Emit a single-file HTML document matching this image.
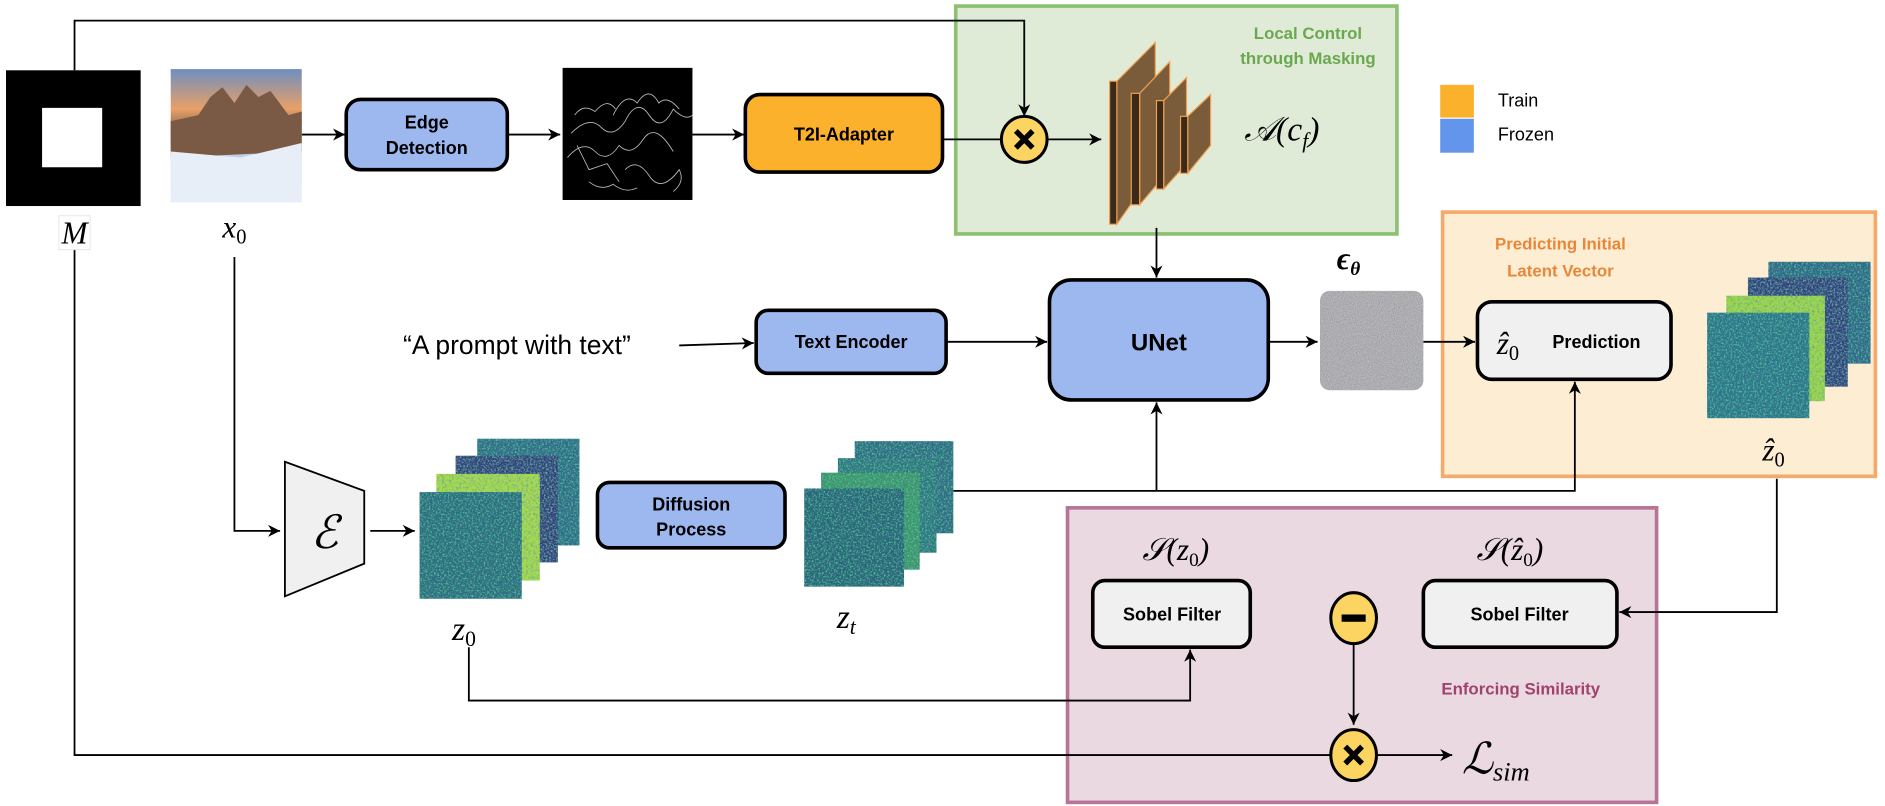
<!DOCTYPE html>
<html><head><meta charset="utf-8"><style>
html,body{margin:0;padding:0;background:#fff;}
svg{display:block;}
.b{font-family:"Liberation Sans",sans-serif;font-weight:bold;}
.m{font-family:"Liberation Serif",serif;font-style:italic;}
</style></head><body>
<svg width="1885" height="806" viewBox="0 0 1568 665" preserveAspectRatio="none" xmlns="http://www.w3.org/2000/svg">
<defs>
<marker id="ar" markerWidth="12" markerHeight="12" refX="10" refY="5" orient="auto" markerUnits="userSpaceOnUse">
<path d="M0,0 L10,5 L0,10 L3,5 Z" fill="#000"/></marker>
<filter id="nz" x="0" y="0" width="100%" height="100%">
<feTurbulence type="fractalNoise" baseFrequency="0.7" numOctaves="3" seed="3"/>
<feColorMatrix type="matrix" values="0 0 0 0 0.15  0 0 0 0 0.85  0 0 0 0 0.35  1.6 0 0 0 -0.75"/>
<feComposite in2="SourceGraphic" operator="in" result="hi"/>
<feTurbulence type="fractalNoise" baseFrequency="0.5" numOctaves="2" seed="9"/>
<feColorMatrix type="matrix" values="0 0 0 0 0.1  0 0 0 0 0.1  0 0 0 0 0.35  1.6 0 0 0 -0.7"/>
<feComposite in2="SourceGraphic" operator="in" result="lo"/>
<feMerge><feMergeNode in="SourceGraphic"/><feMergeNode in="lo"/><feMergeNode in="hi"/></feMerge>
</filter>
<filter id="gn" x="0" y="0" width="100%" height="100%">
<feTurbulence type="fractalNoise" baseFrequency="1.3" numOctaves="2" seed="5"/>
<feColorMatrix type="matrix" values="0.6 0 0 0 0.12  0 0.6 0 0 0.12  0 0 0.6 0 0.14  0 0 0 0 1"/>
<feComposite in2="SourceGraphic" operator="in"/>
</filter>
<linearGradient id="sky" x1="0" y1="0" x2="0" y2="1">
<stop offset="0" stop-color="#6f8fc0"/><stop offset="0.3" stop-color="#e9a066"/><stop offset="0.45" stop-color="#8a6a55"/><stop offset="0.65" stop-color="#c0d0e8"/><stop offset="1" stop-color="#eef2fa"/></linearGradient>
</defs>

<rect x="795" y="5" width="367" height="188" fill="#e0ebd7" stroke="#8cc072" stroke-width="3"/>
<text class="b" x="1088" y="32" font-size="14" fill="#6aa84f" text-anchor="middle">Local Control</text>
<text class="b" x="1088" y="53" font-size="14" fill="#6aa84f" text-anchor="middle">through Masking</text>
<rect x="1200" y="175" width="360" height="218" fill="#fdedd2" stroke="#f5a96a" stroke-width="3"/>
<text class="b" x="1298" y="206" font-size="14" fill="#e8873a" text-anchor="middle">Predicting Initial</text>
<text class="b" x="1298" y="228" font-size="14" fill="#e8873a" text-anchor="middle">Latent Vector</text>
<rect x="888" y="419" width="490" height="243" fill="#ead9e0" stroke="#b87496" stroke-width="3"/>
<text class="b" x="1265" y="573" font-size="14" fill="#a0426e" text-anchor="middle">Enforcing Similarity</text>

<g fill="none" stroke="#000" stroke-width="1.5">
<path d="M62,58 V17 H852 V96" marker-end="url(#ar)"/>
<path d="M251,111 H287" marker-end="url(#ar)"/>
<path d="M422,111 H466" marker-end="url(#ar)"/>
<path d="M576,111 H619" marker-end="url(#ar)"/>
<path d="M784,115 H832"/>
<path d="M872,115 H916" marker-end="url(#ar)"/>
<path d="M962,188 V229" marker-end="url(#ar)"/>
<path d="M565,285 L627,283" marker-end="url(#ar)"/>
<path d="M787,282 H871" marker-end="url(#ar)"/>
<path d="M1055,282 H1096" marker-end="url(#ar)"/>
<path d="M1184,282 H1227" marker-end="url(#ar)"/>
<path d="M793,405 H1310 V315" marker-end="url(#ar)"/>
<path d="M962,405 V332" marker-end="url(#ar)"/>
<path d="M1478,395 V505 H1347" marker-end="url(#ar)"/>
<path d="M195,212 V438 H233" marker-end="url(#ar)"/>
<path d="M308,438 L345,438" marker-end="url(#ar)"/>
<path d="M390,534 V578 H990 V536" marker-end="url(#ar)"/>
<path d="M1126,530 V598" marker-end="url(#ar)"/>
<path d="M62,205 V623 H1106"/>
<path d="M1146,623 H1208" marker-end="url(#ar)"/>
</g>

<rect x="5" y="58" width="112" height="112" fill="#000"/>
<rect x="35" y="89" width="50" height="49" fill="#fff"/>
<rect x="49" y="178" width="26" height="28" fill="#fff" stroke="#dde8f0" stroke-width="0.8"/>
<text class="m" x="62" y="201" font-size="26" text-anchor="middle">M</text>

<rect x="142" y="57" width="109" height="110" fill="url(#sky)"/>
<path d="M142,100 L165,95 L175,80 L185,72 L195,85 L205,70 L215,80 L225,75 L240,95 L251,92 L251,125 L142,130 Z" fill="#7a5a45"/>
<path d="M142,125 L200,130 L251,118 L251,167 L142,167 Z" fill="#e8eef8"/>
<text class="m" x="195" y="196" font-size="26" text-anchor="middle">x<tspan font-size="17" font-style="normal" dy="5">0</tspan></text>

<rect x="468" y="56" width="108" height="109" fill="#000"/>
<g fill="none" stroke="#bbb" stroke-width="0.7">
<path d="M475,110 Q490,95 500,105 T520,100 Q530,80 540,95 T560,90 Q570,100 576,95"/>
<path d="M472,130 Q485,115 495,125 T515,120 Q525,130 535,115 T560,125"/>
<path d="M510,95 Q520,75 530,85 Q540,70 548,85 Q555,78 565,90"/>
<path d="M520,140 Q530,130 540,145 T565,140 Q570,150 560,158"/>
<path d="M480,120 L490,140 L505,135 L515,150"/>
<path d="M478,95 Q485,85 495,92 Q505,80 512,90"/>
<path d="M490,150 Q500,158 510,152 Q520,160 530,155"/>
</g>

<g stroke="#000" stroke-width="3">
<rect x="288" y="82" width="134" height="58" rx="12" fill="#9db8ef"/>
<rect x="620" y="78" width="164" height="64" rx="12" fill="#fbb12b"/>
<rect x="629" y="256" width="158" height="52" rx="10" fill="#9db8ef"/>
<rect x="873" y="231" width="182" height="99" rx="18" fill="#9db8ef"/>
<rect x="497" y="398" width="156" height="54" rx="10" fill="#9db8ef"/>
<rect x="1229" y="249" width="161" height="64" rx="12" fill="#f0f0f0"/>
<rect x="909" y="479" width="131" height="55" rx="10" fill="#f0f0f0"/>
<rect x="1184" y="479" width="161" height="55" rx="10" fill="#f0f0f0"/>
</g>
<g class="b" font-size="15" text-anchor="middle">
<text x="355" y="106">Edge</text><text x="355" y="127">Detection</text>
<text x="702" y="116">T2I-Adapter</text>
<text x="708" y="287">Text Encoder</text>
<text x="964" y="289" font-size="20">UNet</text>
<text x="575" y="421">Diffusion</text><text x="575" y="442">Process</text>
<text x="1328" y="287">Prediction</text>
<text x="975" y="512">Sobel Filter</text>
<text x="1264" y="512">Sobel Filter</text>
</g>
<text class="m" x="1245" y="292" font-size="26">ẑ<tspan font-size="17" font-style="normal" dy="5">0</tspan></text>
<text x="430" y="292" font-family="Liberation Sans,sans-serif" font-size="22" text-anchor="middle">“A prompt with text”</text>

<circle cx="852" cy="115" r="19" fill="#fcd462" stroke="#000" stroke-width="2.5"/>
<path d="M845,108 L859,122 M859,108 L845,122" stroke="#000" stroke-width="4.5"/>

<g stroke="#f0a050" stroke-width="1">
<path d="M929,67 L961,35 L961,140 L929,185 Z" fill="#7a5c3a"/><rect x="923" y="67" width="6" height="118" fill="#3a2a1a"/>
<path d="M948,77 L973,51 L973,140 L948,169 Z" fill="#7a5c3a"/><rect x="941" y="77" width="7" height="92" fill="#3a2a1a"/>
<path d="M968,83 L987,64 L987,135 L968,156 Z" fill="#7a5c3a"/><rect x="962" y="83" width="6" height="73" fill="#3a2a1a"/>
<path d="M988,96 L1007,78 L1007,120 L988,143 Z" fill="#7a5c3a"/><rect x="982" y="96" width="6" height="47" fill="#3a2a1a"/>
</g>
<text class="m" x="1035" y="116" font-size="28">𝒜(c<tspan font-size="18" dy="6">f</tspan><tspan dy="-6">)</tspan></text>

<rect x="1198" y="70" width="28" height="27" fill="#fbb12b"/>
<rect x="1198" y="98" width="28" height="28" fill="#6495ed"/>
<text x="1246" y="88" font-family="Liberation Sans,sans-serif" font-size="15">Train</text>
<text x="1246" y="116" font-family="Liberation Sans,sans-serif" font-size="15">Frozen</text>

<text class="m" x="1112" y="222" font-size="26" font-weight="bold">ϵ<tspan font-size="16" dy="5">θ</tspan></text>
<rect x="1098" y="240" width="86" height="82" rx="8" fill="#807e80" filter="url(#gn)"/>

<rect x="1471" y="216" width="85" height="84" fill="#2b6a88" filter="url(#nz)"/>
<rect x="1454" y="229" width="83" height="90" fill="#363d80" filter="url(#nz)"/>
<rect x="1436" y="244" width="82" height="87" fill="#9fd53a" filter="url(#nz)"/>
<rect x="1420" y="258" width="85" height="87" fill="#26788a" filter="url(#nz)"/>
<text class="m" x="1466" y="380" font-size="26">ẑ<tspan font-size="17" font-style="normal" dy="5">0</tspan></text>

<path d="M237,381 L303,405 L303,465 L237,492 Z" fill="#f0f0f0" stroke="#000" stroke-width="1.5"/>
<text x="270" y="452" font-family="Liberation Serif,serif" font-style="italic" font-size="38" text-anchor="middle">ℰ</text>

<rect x="397" y="362" width="85" height="88" fill="#2a7088" filter="url(#nz)"/>
<rect x="379" y="376" width="85" height="88" fill="#343d7e" filter="url(#nz)"/>
<rect x="363" y="391" width="86" height="88" fill="#a8d840" filter="url(#nz)"/>
<rect x="349" y="406" width="85" height="88" fill="#25707f" filter="url(#nz)"/>
<text class="m" x="376" y="528" font-size="28">z<tspan font-size="18" font-style="normal" dy="5">0</tspan></text>

<rect x="711" y="364" width="82" height="76" fill="#2a6f84" filter="url(#nz)"/>
<rect x="697" y="378" width="82" height="78" fill="#2a7a80" filter="url(#nz)"/>
<rect x="683" y="390" width="82" height="80" fill="#3a9a6a" filter="url(#nz)"/>
<rect x="669" y="403" width="83" height="81" fill="#246878" filter="url(#nz)"/>
<text class="m" x="696" y="518" font-size="28">z<tspan font-size="18" dy="5">t</tspan></text>

<text class="m" x="978" y="462" font-size="26" text-anchor="middle">𝒮(z<tspan font-size="16" font-style="normal" dy="5">0</tspan><tspan dy="-5">)</tspan></text>
<text class="m" x="1256" y="462" font-size="26" text-anchor="middle">𝒮(ẑ<tspan font-size="16" font-style="normal" dy="5">0</tspan><tspan dy="-5">)</tspan></text>

<ellipse cx="1126" cy="510" rx="19" ry="21" fill="#fcd462" stroke="#000" stroke-width="2.5"/>
<rect x="1116" y="507" width="20" height="6" fill="#000"/>
<ellipse cx="1126" cy="623" rx="19" ry="21" fill="#fcd462" stroke="#000" stroke-width="2.5"/>
<path d="M1119,616 L1133,630 M1133,616 L1119,630" stroke="#000" stroke-width="4.5"/>
<text class="m" x="1216" y="638" font-size="36">ℒ<tspan font-size="22" dy="6">sim</tspan></text>
</svg>
</body></html>
